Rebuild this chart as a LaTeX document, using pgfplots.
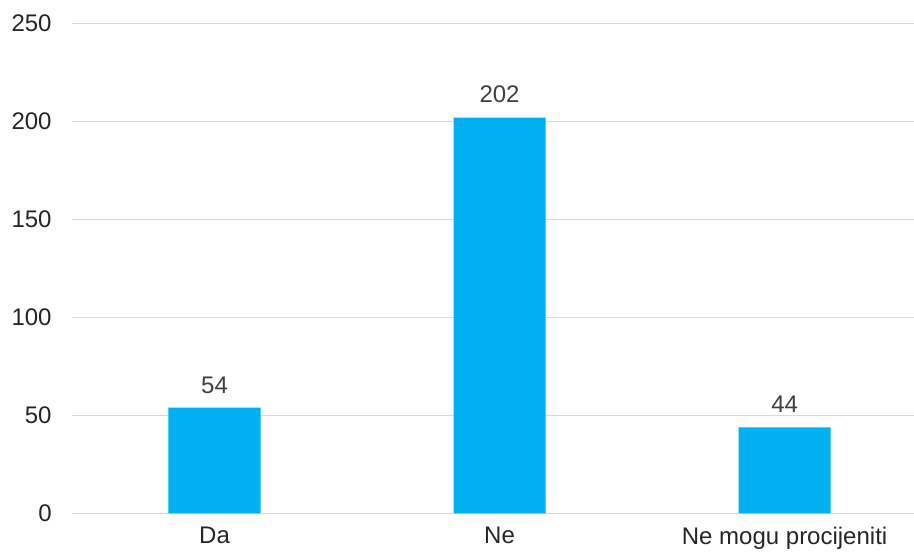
\documentclass[border=0pt]{standalone}
\usepackage{pgfplots}
\pgfplotsset{compat=1.18}
\usepackage{fontspec}
\setmainfont{Liberation Sans}
\definecolor{barblue}{HTML}{00B0F0}
\definecolor{gridgray}{HTML}{D9D9D9}
\definecolor{labgray}{HTML}{404040}
\definecolor{tickgray}{HTML}{262626}
\begin{document}
\begin{tikzpicture}
\begin{axis}[
  scale only axis,
  width=421pt, height=245pt,
  xmin=-0.5, xmax=2.454,
  ymin=0, ymax=250,
  ytick={0,50,100,150,200,250},
  xtick={0,1,2},
  xticklabels={Da,Ne,Ne mogu procijeniti},
  axis line style={draw=none},
  major tick length=0pt,
  ymajorgrids,
  grid style={gridgray, line width=0.75pt},
  /pgf/number format/assume math mode=true,
  font=\fontsize{12}{14}\selectfont,
  yticklabel style={anchor=east, inner sep=0pt, xshift=-10pt, text=tickgray},
  xticklabel style={anchor=north, inner sep=0pt, yshift=-6.75pt, text=tickgray},
  clip=false,
]
\addplot[ybar, bar width=0.323, fill=barblue, draw=none,
  nodes near coords,
  every node near coord/.append style={anchor=south, inner sep=0pt, yshift=7pt, text=labgray, font=\fontsize{12}{14}\selectfont},
] coordinates {(0,54) (1,202) (2,44)};
\end{axis}
\pgfresetboundingbox
\path[use as bounding box] ([xshift=-36pt,yshift=-20.75pt]current axis.south west) rectangle ([yshift=11.75pt]current axis.north east);
\end{tikzpicture}
\end{document}
